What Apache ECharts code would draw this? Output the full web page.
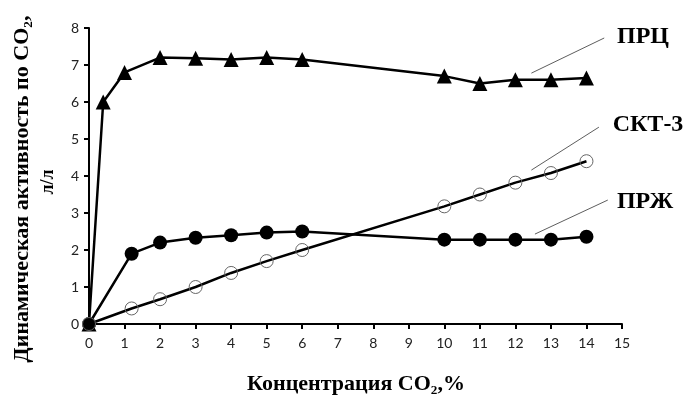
<!DOCTYPE html>
<html>
<head>
<meta charset="utf-8">
<script src="https://cdn.jsdelivr.net/npm/echarts@6/dist/echarts.min.js"></script>
<style>
  html, body { margin: 0; padding: 0; background: #fff; }
  #chart { width: 686px; height: 403px; }
</style>
</head>
<body>
<div id="chart"></div>
<script>
// данные
var xPRC = [0, 0.4, 1, 2, 3, 4, 5, 6, 10, 11, 12, 13, 14];
var yPRC = [0, 6.0, 6.8, 7.2, 7.18, 7.15, 7.2, 7.15, 6.7, 6.5, 6.6, 6.6, 6.65];
var xPRZh = [0, 1.2, 2, 3, 4, 5, 6, 10, 11, 12, 13, 14];
var yPRZh = [0, 1.9, 2.2, 2.33, 2.4, 2.47, 2.5, 2.28, 2.28, 2.28, 2.28, 2.36];
var xSKT = [0, 1.2, 2, 3, 4, 5, 6, 10, 11, 12, 13, 14];
var ySKT = [0, 0.42, 0.67, 1.0, 1.38, 1.7, 2.0, 3.18, 3.5, 3.82, 4.08, 4.4];
// выноски подписей
var leadPRC = [[12.45, 6.78], [14.5, 7.73]];
var leadSKT = [[12.45, 4.16], [14.35, 5.32]];
var leadPRZh = [[12.55, 2.43], [14.6, 3.35]];

function zip(xs, ys) {
	var r = [];
	for (var i = 0; i < xs.length; i++) r.push([xs[i], ys[i]]);
	return r;
}

function leader(d) {
	return {
		type: 'line', data: d, symbol: 'none', silent: true, z: 1,
		lineStyle: { color: '#333', width: 0.8 }
	};
}

var serif = '"Liberation Serif", "DejaVu Serif", serif';

var option = {
	animation: false,
	backgroundColor: '#fff',
	grid: { left: 89, right: 64, top: 28, bottom: 79 },
	xAxis: {
		type: 'value', min: 0, max: 15, interval: 1,
		axisLine: { show: true, lineStyle: { color: '#000', width: 2 } },
		axisTick: { show: true, length: 5, lineStyle: { color: '#000', width: 2 } },
		axisLabel: { color: '#222', fontSize: 14, fontFamily: 'Lato', margin: 12 },
		splitLine: { show: false }
	},
	yAxis: {
		type: 'value', min: 0, max: 8, interval: 1,
		axisLine: { show: true, lineStyle: { color: '#000', width: 2 } },
		axisTick: { show: true, length: 5, lineStyle: { color: '#000', width: 2 } },
		axisLabel: { color: '#222', fontSize: 14, fontFamily: 'Lato', margin: 10 },
		splitLine: { show: false }
	},
	series: [
		{
			name: 'ПРЦ', type: 'line', data: zip(xPRC, yPRC),
			symbol: 'triangle', symbolSize: 15,
			lineStyle: { color: '#000', width: 2.5 },
			itemStyle: { color: '#000' }
		},
		{
			name: 'ПРЖ', type: 'line', data: zip(xPRZh, yPRZh),
			symbol: 'circle', symbolSize: 14,
			lineStyle: { color: '#000', width: 2.5 },
			itemStyle: { color: '#000' }
		},
		{
			name: 'СКТ-3', type: 'line', data: zip(xSKT, ySKT),
			symbol: 'circle', symbolSize: 13,
			lineStyle: { color: '#000', width: 2.5 },
			itemStyle: { color: 'rgba(0,0,0,0)', borderColor: '#666', borderWidth: 1 }
		},
		leader(leadPRC),
		leader(leadSKT),
		leader(leadPRZh)
	],
	graphic: [
		{ type: 'text', x: 643, y: 37, style: { text: 'ПРЦ', font: 'bold 24px ' + serif, fill: '#000', align: 'center', verticalAlign: 'middle' } },
		{ type: 'text', x: 648, y: 125, style: { text: 'СКТ-3', font: 'bold 24px ' + serif, fill: '#000', align: 'center', verticalAlign: 'middle' } },
		{ type: 'text', x: 645, y: 202, style: { text: 'ПРЖ', font: 'bold 24px ' + serif, fill: '#000', align: 'center', verticalAlign: 'middle' } },
		{
			type: 'text', x: 22, y: 189, rotation: Math.PI / 2,
			style: { text: 'Динамическая активность по CO₂,', font: 'bold 22px ' + serif, fill: '#000', align: 'center', verticalAlign: 'middle' }
		},
		{
			type: 'text', x: 48, y: 182, rotation: Math.PI / 2,
			style: { text: 'л/л', font: 'bold 18px ' + serif, fill: '#000', align: 'center', verticalAlign: 'middle' }
		},
		{
			type: 'text', x: 356, y: 384,
			style: { text: 'Концентрация CO₂,%', font: 'bold 22px ' + serif, fill: '#000', align: 'center', verticalAlign: 'middle' }
		}
	]
};

var chart = echarts.init(document.getElementById('chart'));
chart.setOption(option);
</script>
</body>
</html>
